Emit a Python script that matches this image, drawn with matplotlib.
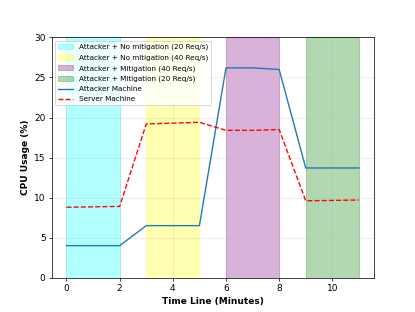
import numpy as np
import matplotlib.pyplot as plt

minutes = [0, 1, 2, 3, 4, 5, 6, 7, 8, 9, 10, 11]
attacker = [4.0, 4.0, 4.0, 6.5, 6.5, 6.5, 26.2, 26.2, 26.0, 13.7, 13.7, 13.7]
server = [8.8, 8.85, 8.9, 19.2, 19.3, 19.4, 18.4, 18.4, 18.5, 9.6, 9.65, 9.7]

phases = [(0, 2, 'cyan', "Attacker + No mitigation (20 Req/s)"),
          (3, 5, 'yellow', "Attacker + No mitigation (40 Req/s)"),
          (6, 8, 'purple', "Attacker + Mitigation (40 Req/s)"),
          (9, 11, 'green', "Attacker + Mitigation (20 Req/s)")]

plt.figure(figsize=(6.385, 4.8), dpi=65)
for start, end, col, lab in phases:
    plt.axvspan(start, end, color=col, alpha=0.3, label=lab)
plt.plot(minutes, attacker, color='tab:blue', label="Attacker Machine")
plt.plot(minutes, server, 'r--', label="Server Machine")
plt.ylim(0, 30)
plt.xlabel("Time Line (Minutes)", fontweight='bold')
plt.ylabel("CPU Usage (%)", fontweight='bold')
plt.grid(alpha=0.3)
plt.legend(loc='upper left', fontsize=8, labelspacing=0.55)
plt.savefig("out.png")
